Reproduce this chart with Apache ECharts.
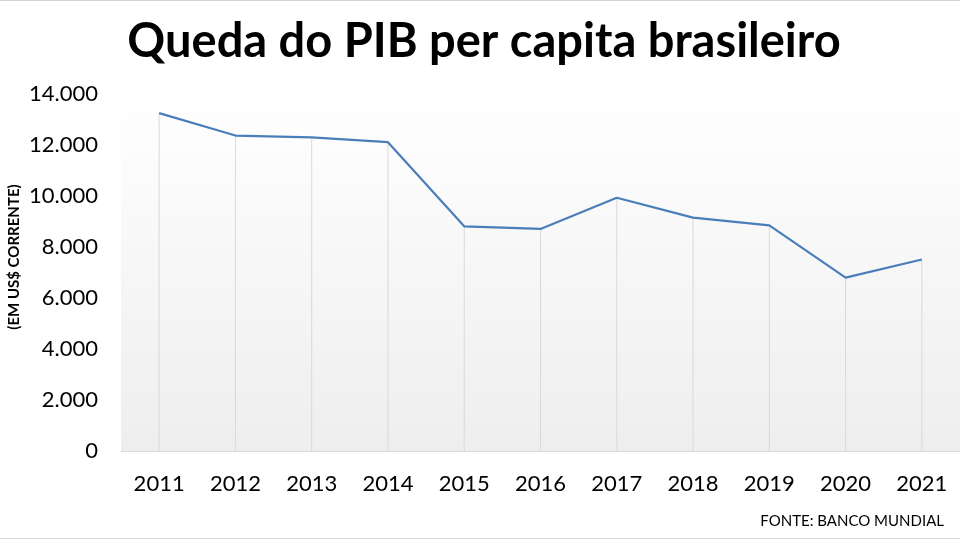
<!DOCTYPE html>
<html><head><meta charset="utf-8">
<script src="https://cdn.jsdelivr.net/npm/echarts@6/dist/echarts.min.js"></script>
<style>html,body{margin:0;padding:0;background:#fff}#c{width:960px;height:540px}</style>
</head><body><div id="c"></div>
<script>
var years = ['2011','2012','2013','2014','2015','2016','2017','2018','2019','2020','2021'];
var gdpPerCapita = [13250, 12370, 12300, 12110, 8810, 8710, 9930, 9150, 8850, 6800, 7510];
var yTicks = {min: 0, max: 14000, interval: 2000};

var chart = echarts.init(document.getElementById('c'));
chart.setOption({
  backgroundColor: '#ffffff',
  animation: false,
  title: {
    text: 'Queda do PIB per capita brasileiro',
    left: 479, top: 13, textAlign: 'center',
    textStyle: {fontFamily: 'Lato', fontWeight: 'bold', fontSize: 47, color: '#000'}
  },
  graphic: [
    {type: 'line', shape: {x1: 0, y1: 0.5, x2: 960, y2: 0.5}, style: {stroke: '#d4d4d4', lineWidth: 1}},
    {type: 'line', shape: {x1: 0, y1: 538.5, x2: 960, y2: 538.5}, style: {stroke: '#d4d4d4', lineWidth: 1}},
    {type: 'text', x: 14, y: 257, rotation: Math.PI / 2,
      style: {text: '(EM US$ CORRENTE)', fontFamily: 'Lato', fontWeight: 'bold', fontSize: 15, fill: '#000',
        textAlign: 'center', textVerticalAlign: 'middle'}},
    {type: 'text', right: 16, top: 514,
      style: {text: 'FONTE: BANCO MUNDIAL', fontFamily: 'Lato', fontSize: 15, fill: '#000'}}
  ],
  grid: {
    left: 121, right: 0, top: 94, bottom: 89, show: true, borderWidth: 0,
    backgroundColor: new echarts.graphic.LinearGradient(0, 0, 0, 1, [
      {offset: 0, color: '#ffffff'}, {offset: 1, color: '#eeeeee'}
    ])
  },
  xAxis: {
    type: 'category', data: years, boundaryGap: true,
    axisLine: {show: true, lineStyle: {color: '#d9d9d9', width: 1}},
    axisTick: {show: false},
    axisLabel: {fontFamily: 'Lato', fontSize: 22, color: '#000', margin: 22}
  },
  yAxis: {
    type: 'value', min: yTicks.min, max: yTicks.max, interval: yTicks.interval,
    axisLine: {show: false}, axisTick: {show: false}, splitLine: {show: false},
    axisLabel: {fontFamily: 'Lato', fontSize: 22, color: '#000', margin: 23,
      formatter: function (v) { return v === 0 ? '0' : (v / 1000).toFixed(0) + '.000'; }}
  },
  series: [
    {type: 'bar', data: gdpPerCapita, barWidth: 1, silent: true,
      itemStyle: {color: '#d9d9d9'}, z: 1},
    {type: 'line', data: gdpPerCapita, symbol: 'none', z: 3,
      lineStyle: {color: '#4a7ebb', width: 2.2}}
  ]
});
</script></body></html>
